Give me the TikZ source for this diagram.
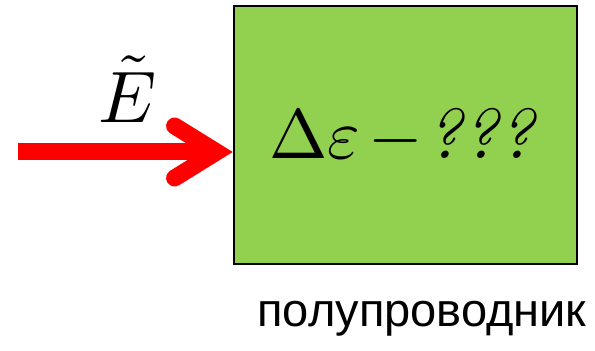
\documentclass[tikz,border=0pt]{standalone}
\usepackage{fontspec}
\usepackage{xcolor}
\usepackage{tikz}
\usetikzlibrary{arrows.meta, positioning}
\newfontfamily\rufont{Liberation Sans}
\definecolor{clrGreen}{HTML}{92D050}
\definecolor{clrRed}{HTML}{FF0000}
\tikzset{
  semi box/.style={rectangle, draw=black, line width=2.5pt, fill=clrGreen, minimum width=343pt, minimum height=258pt, inner sep=0pt},
  field arr/.style={draw=clrRed, line width=17pt, -{Straight Barb[length=42pt, width=52pt, line cap=round, line join=miter]}},
  big math/.style={scale=7.3, inner sep=0pt},
  caption text/.style={font=\rufont\fontsize{47}{52}\selectfont, inner sep=0pt},
}

\begin{document}
\begin{tikzpicture}[x=1pt, y=1pt]
  \useasboundingbox (0,0) rectangle (595,351);

  % Semiconductor
  \node[semi box] (semi) at (405.5,216) {};
  \node[big math, scale=0.96, anchor=base west] (gap) at (268,193) {$\Delta\varepsilon\mkern-2mu-\mkern-3mu\textit{???}$};
  \node[caption text, anchor=base] (seminame) at (422,24) {полупроводник};

  % Field
  \coordinate (src) at (18,199);
  \draw[field arr] (src) -- (src -| semi.west);
  \node[big math, anchor=base] (field) at (128,228) {$\tilde{E}$};
\end{tikzpicture}
\end{document}
